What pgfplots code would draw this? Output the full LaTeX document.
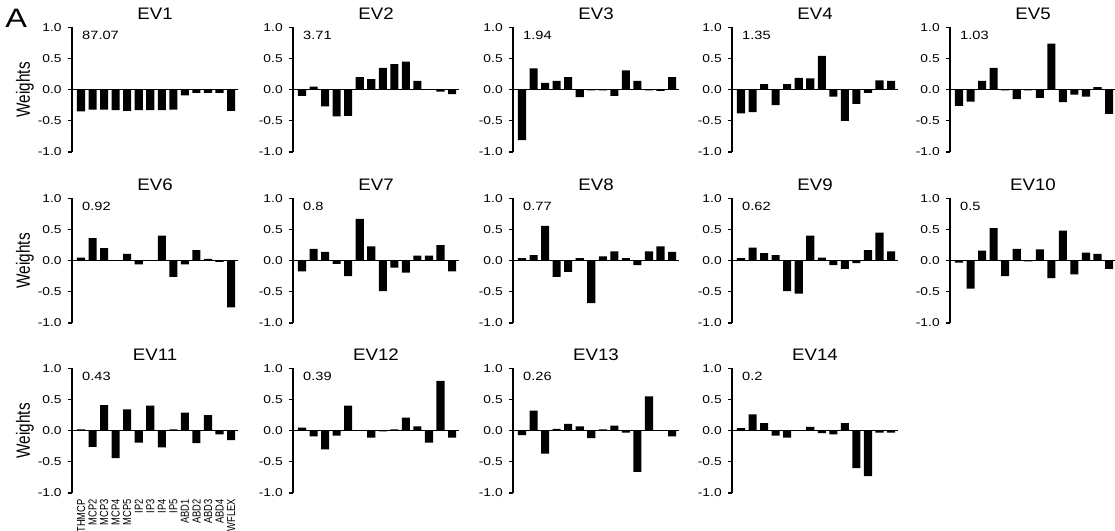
\documentclass[border=0pt]{standalone}
\usepackage{fontspec}
\setmainfont{Liberation Sans}
\usepackage{graphicx}
\usepackage{pgfplots}
\usepackage{pgfplotstable}
\pgfplotsset{compat=1.18}

% fonts
\newcommand\ticksize{\fontsize{8.5}{10}\selectfont}
\newcommand\numfont{\fontsize{9}{10.8}\selectfont}
\newcommand\titlefont{\fontsize{12.5}{15}\selectfont}
% upright text is set a little wide, rotated text a little thick
\newcommand\sx[1]{\scalebox{1.22}[1]{#1}}
\newcommand\tx[1]{\scalebox{1.12}[1]{#1}}
\newcommand\rl[1]{\scalebox{1}[1.25]{#1}}

% loadings of the 14 joint angles on the eigenvectors EV1..EV14
\pgfplotstableread{
x  ev1   ev2   ev3   ev4   ev5   ev6   ev7   ev8   ev9   ev10  ev11  ev12  ev13  ev14
0  -0.35 -0.10 -0.81 -0.38 -0.26  0.05 -0.17  0.04  0.04 -0.03  0.02  0.05 -0.07  0.04
1  -0.32  0.05  0.34 -0.36 -0.19  0.36  0.19  0.09  0.21 -0.45 -0.26 -0.09  0.32  0.26
2  -0.32 -0.27  0.11  0.09  0.14  0.20  0.14  0.56  0.12  0.16  0.41 -0.30 -0.37  0.12
3  -0.33 -0.43  0.14 -0.25  0.35  0.01 -0.05 -0.26  0.09  0.52 -0.44 -0.08  0.03 -0.08
4  -0.34 -0.42  0.20  0.09 -0.01  0.11 -0.25 -0.18 -0.49 -0.25  0.34  0.40  0.11 -0.11
5  -0.33  0.20 -0.12  0.19 -0.15 -0.06  0.67  0.04 -0.53  0.19 -0.19  0.01  0.07  0.00
6  -0.33  0.17 -0.01  0.18 -0.01  0.01  0.23 -0.68  0.40 -0.01  0.40 -0.11 -0.12  0.06
7  -0.33  0.35 -0.01  0.54 -0.13  0.40 -0.49  0.07  0.05  0.18 -0.27 -0.01  0.02 -0.04
8  -0.32  0.41 -0.10 -0.11  0.74 -0.26 -0.11  0.15 -0.07 -0.28  0.02  0.02  0.08 -0.06
9  -0.09  0.45  0.31 -0.50 -0.20 -0.06 -0.19  0.04 -0.13  0.48  0.29  0.21 -0.03  0.12
10 -0.05  0.14  0.14 -0.23 -0.08  0.17  0.08 -0.07 -0.04 -0.22 -0.20  0.07 -0.66 -0.60
11 -0.05  0.01 -0.01 -0.05 -0.11  0.03  0.08  0.15  0.17  0.13  0.25 -0.19  0.55 -0.73
12 -0.05 -0.03 -0.02  0.15  0.04 -0.02  0.25  0.23  0.45  0.11 -0.06  0.80  0.01 -0.03
13 -0.34 -0.07  0.20  0.14 -0.39 -0.75 -0.17  0.14  0.15 -0.13 -0.15 -0.11 -0.09 -0.03
}\evtab

\pgfplotsset{
  panel/.style={
    anchor=south west, scale only axis,
    width=124.5pt, height=93.5pt,
    xmin=-0.78, xmax=13.6, ymin=-1, ymax=1,
    axis y line=left, axis x line=bottom,
    axis line style={-}, y axis line style={-, line width=0.85pt},
    x axis line style={draw=none},
    ytick={-1,-0.5,0,0.5,1},
    yticklabels={\sx{-1.0},\sx{-0.5},\sx{0.0},\sx{0.5},\sx{1.0}},
    tick align=outside, major tick length=3pt,
    ytick style={line width=0.85pt, black},
    yticklabel style={font=\ticksize, xshift=-1.2pt},
    xtick=\empty, xtick style={draw=none},
    title style={at={(0.5,1)}, anchor=base, font=\titlefont, inner sep=0pt},
    clip=false,
  },
}

% #1,#2 lower left corner, #3 column, #4 title, #5 eigenvalue,
% #6 extra options, #7 extra drawing
\newcommand\panel[7]{%
  \begin{axis}[panel, at={(#1,#2)}, title={\tx{#4}}, #6]
    \addplot[ybar, fill=black, draw=none, bar width=0.7] table[x=x, y=#3] {\evtab};
    \draw[line width=1.1pt] (rel axis cs:0,0.5) -- (rel axis cs:1,0.5);
    \node[anchor=base west, font=\numfont, inner sep=0pt] at (rel axis cs:0.06,0.903) {\sx{#5}};
    #7
  \end{axis}}

\newcommand\weights{%
  \node[rotate=90, anchor=center, inner sep=0pt, font=\fontsize{11.5}{13.5}\selectfont]
    at ([xshift=-35.25pt]rel axis cs:0,0.5) {\rl{Weights}};}

\begin{document}
\begin{tikzpicture}
\path[use as bounding box] (0,0) rectangle (836.25pt,398.25pt);
\node[anchor=base west, inner sep=0pt, font=\fontsize{20}{24}\selectfont] at (3.75pt,377.25pt) {\sx{A}};

\panel{54pt}{284.25pt}{ev1}{EV1}{87.07}{}{\weights}
\panel{219.75pt}{284.25pt}{ev2}{EV2}{3.71}{}{}
\panel{384.75pt}{284.25pt}{ev3}{EV3}{1.94}{}{}
\panel{549pt}{284.25pt}{ev4}{EV4}{1.35}{}{}
\panel{712.5pt}{284.25pt}{ev5}{EV5}{1.03}{}{}

\panel{54pt}{156pt}{ev6}{EV6}{0.92}{}{\weights}
\panel{219.75pt}{156pt}{ev7}{EV7}{0.8}{}{}
\panel{384.75pt}{156pt}{ev8}{EV8}{0.77}{}{}
\panel{549pt}{156pt}{ev9}{EV9}{0.62}{}{}
\panel{712.5pt}{156pt}{ev10}{EV10}{0.5}{}{}

\panel{54pt}{28.5pt}{ev11}{EV11}{0.43}{
  xtick={0,...,13},
  xticklabels={\rl{THMCP},\rl{MCP2},\rl{MCP3},\rl{MCP4},\rl{MCP5},\rl{IP2},\rl{IP3},\rl{IP4},\rl{IP5},\rl{ABD1},\rl{ABD2},\rl{ABD3},\rl{ABD4},\rl{WFLEX}},
  xticklabel style={rotate=90, anchor=east, font=\fontsize{7}{8}\selectfont, inner sep=1.5pt}}{\weights}
\panel{219.75pt}{28.5pt}{ev12}{EV12}{0.39}{}{}
\panel{384.75pt}{28.5pt}{ev13}{EV13}{0.26}{}{}
\panel{549pt}{28.5pt}{ev14}{EV14}{0.2}{}{}
\end{tikzpicture}
\end{document}
